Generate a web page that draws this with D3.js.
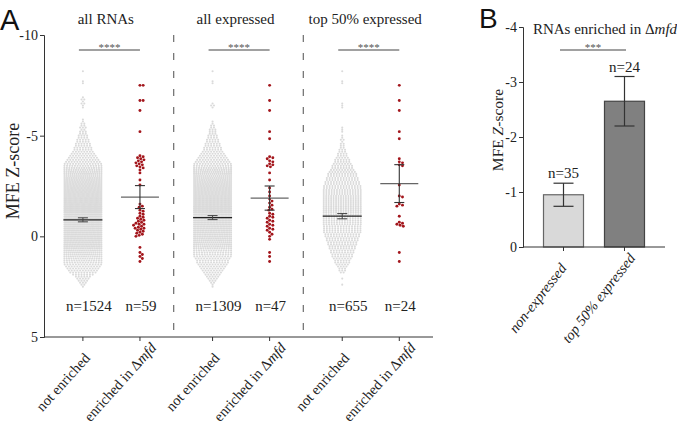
<!DOCTYPE html>
<html><head><meta charset="utf-8">
<script src="https://cdn.jsdelivr.net/npm/d3@7"></script>
<style>
body{margin:0;background:#fff}
svg{display:block}
text{font-family:"Liberation Serif","Times New Roman",Times,serif;fill:#222}
.sans{font-family:"Liberation Sans",Arial,sans-serif}
</style>
</head><body>
<svg id="c" width="677" height="431"></svg>
<script>
// ---------------- DATA ----------------
const groupNames = ["all RNAs", "all expressed", "top 50% expressed"];
const categoriesA = ["not enriched", "enriched in Δmfd"];
const yTicksA = [-10, -5, 0, 5];
const sigA = ["****", "****", "****"];
const nA = [[1524, 59], [1309, 47], [655, 24]];

// grey swarm: number of dots per row, rows start at swarmStart and step by swarmStep
const swarmStart = -8.2, swarmStep = 0.1;
const greyRows1 = [1,0,0,0,0,1,1,0,0,0,0,0,0,1,2,1,2,1,1,0,0,0,0,0,
  1,1,2,2,3,2,3,3,4,4,5,5,6,6,7,7,8,9,10,11,12,13,14,15,16,17,18,19,20,
  22,23,24,25,26,27,28,29,30,30,31,31,31,32,32,32,32,32,32,31,31,31,30,30,30,29,29,28,28,27,27,26,25,24,23,22,21,20,19,18,17,16,15,
  14,13,12,11,10,8,6,5,4,3,2,1];
const greyRows2 = [1,0,0,0,0,1,1,0,0,0,0,0,0,0,0,0,1,2,1,0,0,0,0,0,0,
  1,1,2,2,3,3,3,4,4,5,5,6,6,7,7,8,9,10,11,12,13,14,15,16,17,18,19,20,
  21,22,23,24,25,26,26,27,27,28,28,28,28,28,28,28,28,28,27,27,27,26,26,26,25,25,24,24,23,23,22,21,20,19,18,17,16,15,15,14,
  13,12,12,11,10,9,8,7,6,5,4,3,2,1,1];
const greyRows3 = [1,0,0,0,0,1,1,0,0,0,0,0,0,0,0,0,1,1,1,0,0,0,0,0,0,0,0,0,
  1,1,1,0,1,1,2,1,2,2,2,3,3,4,4,5,6,6,7,8,8,9,10,11,11,12,12,13,13,14,14,15,
  15,15,16,16,16,16,16,16,16,16,16,16,15,15,15,15,15,14,14,14,14,13,13,12,12,11,11,10,
  10,9,9,8,8,7,6,6,5,4,3,3,2,0,0,1,0,0,1];
const greyRows = [greyRows1, greyRows2, greyRows3];

// red points (enriched in Δmfd)
const red1 = [-7.5,-7.5,-6.75,-6.75,-6.25,-5.2,-4.0,-3.95,-3.9,-3.85,-3.8,-3.75,-3.7,-3.65,-3.6,-3.55,-3.5,-3.45,-3.4,-3.3,
  -3.15,-2.8,-2.55,-1.6,-1.5,-1.45,-1.3,-1.25,-1.15,-1.1,-1.0,-0.95,-0.9,-0.85,-0.8,-0.75,-0.7,-0.65,-0.6,-0.6,-0.55,-0.5,
  -0.45,-0.4,-0.4,-0.35,-0.3,-0.25,-0.2,-0.15,-0.1,-0.05,0.0,0.55,0.8,0.9,1.0,1.1,1.25];
const red2 = [-7.5,-6.75,-6.25,-5.2,-4.85,-3.95,-3.9,-3.85,-3.75,-3.7,-3.6,-3.55,-3.5,-3.45,-3.15,-2.8,-2.4,-2.2,-2.0,
  -1.85,-1.75,-1.65,-1.55,-1.45,-1.35,-1.3,-1.15,-1.1,-1.0,-0.95,-0.9,-0.8,-0.75,-0.7,-0.6,-0.55,-0.5,-0.4,-0.35,-0.3,
  -0.2,-0.1,0.0,0.15,0.8,1.0,1.25];
const red3 = [-7.5,-6.75,-6.25,-5.2,-4.85,-3.85,-3.7,-3.65,-3.55,-3.5,-2.55,-2.0,-1.95,-1.6,-1.55,-1.5,-1.0,-0.7,-0.65,
  -0.6,-0.55,-0.5,0.8,1.25];
const redPts = [red1, red2, red3];

const greyMean = [-0.82, -0.93, -1.0];
const greyErr = [0.1, 0.1, 0.13];
const redMean = [-1.95, -1.9, -2.62];
const redErr = [0.57, 0.6, 0.94];

// Panel B
const catsB = ["non-expressed", "top 50% expressed"];
const valuesB = [-0.95, -2.65];
const errB = [0.21, 0.45];
const nB = [35, 24];
const yTicksB = [-4, -3, -2, -1, 0];
const sigB = "***";

// ---------------- DRAW ----------------
const svg = d3.select("#c");
const ink = "#333";
const serif = '"Liberation Serif","Times New Roman",Times,serif';

// ===== Panel A =====
const yA = d3.scaleLinear().domain([5, -10]).range([337, 35]);
const xGroup = d3.scaleBand().domain(groupNames).range([44, 433]);
const bw = xGroup.bandwidth();
const xInner = d3.scalePoint().domain(categoriesA).range([bw * 0.3, bw * 0.74]);

svg.append("text").attr("class", "sans").attr("x", 0).attr("y", 30)
  .style("font-size", "29px").style("fill", "#111").text("A");

const gyA = svg.append("g").attr("transform", "translate(44,0)")
  .call(d3.axisLeft(yA).tickValues(yTicksA).tickSize(4).tickPadding(2).tickFormat(d => String(d)));
gyA.selectAll("path,line").attr("stroke", ink);
gyA.selectAll("text").style("font-family", serif).style("font-size", "14px").style("fill", "#222");

svg.append("text").attr("transform", `translate(19,${(yA(-10) + yA(5)) / 2 - 15}) rotate(-90)`)
  .attr("text-anchor", "middle").style("font-size", "18px").text("MFE Z-score");

// x axis line
svg.append("line").attr("x1", 44).attr("x2", 433).attr("y1", yA(5)).attr("y2", yA(5))
  .attr("stroke", ink).attr("stroke-width", 1);

// dividers
groupNames.slice(1).forEach(g => {
  svg.append("line").attr("x1", xGroup(g)).attr("x2", xGroup(g))
    .attr("y1", yA(-10)).attr("y2", yA(5))
    .attr("stroke", "#777").attr("stroke-width", 1.3).attr("stroke-dasharray", "7,11");
});

groupNames.forEach((g, gi) => {
  const x0 = xGroup(g);
  const xg = x0 + xInner(categoriesA[0]);
  const xr = x0 + xInner(categoriesA[1]);

  // title
  svg.append("text").attr("x", x0 + bw / 2 - 3).attr("y", 24).attr("text-anchor", "middle")
    .style("font-size", "15px").text(g);

  // significance
  svg.append("line").attr("x1", xg - 4).attr("x2", xr).attr("y1", 50).attr("y2", 50)
    .attr("stroke", "#444").attr("stroke-width", 1.2);
  svg.append("text").attr("x", (xg - 4 + xr) / 2).attr("y", 51).attr("text-anchor", "middle")
    .style("font-size", "11px").style("fill", "#555").text(sigA[gi]);

  // grey swarm
  const gGrey = svg.append("g").attr("fill", "#dadada");
  greyRows[gi].forEach((c, ri) => {
    if (!c) return;
    const v = swarmStart + ri * swarmStep;
    const sp = c > 1 ? Math.min(2.8, 37 / (c - 1)) : 0;
    for (let j = 0; j < c; j++) {
      gGrey.append("circle").attr("cx", xg + (j - (c - 1) / 2) * sp).attr("cy", yA(v)).attr("r", 1.05);
    }
  });

  // red swarm (simple collision layout)
  const r = 1.45;
  const placed = [];
  redPts[gi].slice().sort((a, b) => a - b).forEach(v => {
    const y = yA(v);
    let dx = 0;
    for (let k = 0; k < 60; k++) {
      const cand = k === 0 ? 0 : (k % 2 ? 1 : -1) * Math.ceil(k / 2) * 0.8;
      if (placed.every(p => Math.hypot(p.x - cand, p.y - y) >= 2 * r + 0.1)) { dx = cand; break; }
    }
    placed.push({ x: dx, y });
  });
  svg.append("g").selectAll("circle").data(placed).join("circle")
    .attr("cx", d => xr + d.x).attr("cy", d => d.y).attr("r", r).attr("fill", "#a3161c");

  // grey mean + error
  svg.append("line").attr("x1", xg - 19.5).attr("x2", xg + 19.5)
    .attr("y1", yA(greyMean[gi])).attr("y2", yA(greyMean[gi])).attr("stroke", "#222").attr("stroke-width", 1.2);
  [greyMean[gi] - greyErr[gi], greyMean[gi] + greyErr[gi]].forEach(v => {
    svg.append("line").attr("x1", xg - 5).attr("x2", xg + 5).attr("y1", yA(v)).attr("y2", yA(v))
      .attr("stroke", "#444").attr("stroke-width", 1);
  });
  svg.append("line").attr("x1", xg).attr("x2", xg)
    .attr("y1", yA(greyMean[gi] - greyErr[gi])).attr("y2", yA(greyMean[gi] + greyErr[gi]))
    .attr("stroke", "#444");

  // red mean + error
  svg.append("line").attr("x1", xr - 19).attr("x2", xr + 19)
    .attr("y1", yA(redMean[gi])).attr("y2", yA(redMean[gi])).attr("stroke", "#666").attr("stroke-width", 1.3);
  svg.append("line").attr("x1", xr).attr("x2", xr)
    .attr("y1", yA(redMean[gi] - redErr[gi])).attr("y2", yA(redMean[gi] + redErr[gi]))
    .attr("stroke", "#333").attr("stroke-width", 1.1);
  [redMean[gi] - redErr[gi], redMean[gi] + redErr[gi]].forEach(v => {
    svg.append("line").attr("x1", xr - 5).attr("x2", xr + 5).attr("y1", yA(v)).attr("y2", yA(v))
      .attr("stroke", "#333").attr("stroke-width", 1.1);
  });

  // n labels
  svg.append("text").attr("x", xg + 6).attr("y", 311).attr("text-anchor", "middle")
    .style("font-size", "15px").text("n=" + nA[gi][0]);
  svg.append("text").attr("x", xr + 1).attr("y", 311).attr("text-anchor", "middle")
    .style("font-size", "15px").text("n=" + nA[gi][1]);

  // x ticks + labels
  [xg, xr].forEach((x, ci) => {
    svg.append("line").attr("x1", x).attr("x2", x).attr("y1", yA(5)).attr("y2", yA(5) + 4).attr("stroke", ink);
    const t = svg.append("text").attr("transform", `translate(${x - 20},${382}) rotate(-48)`)
      .attr("text-anchor", "middle").attr("dy", "0.35em").style("font-size", "14.5px");
    if (ci === 0) t.text(categoriesA[0]);
    else {
      t.append("tspan").text("enriched in Δ");
      t.append("tspan").style("font-style", "italic").text("mfd");
    }
  });
});

// ===== Panel B =====
const yB = d3.scaleLinear().domain([0, -4]).range([247, 27]);
const xB = d3.scaleBand().domain(catsB).range([523, 665]).paddingInner(0.344).paddingOuter(0.336);

svg.append("text").attr("class", "sans").attr("x", 479).attr("y", 28)
  .style("font-size", "28px").style("fill", "#111").text("B");

const gyB = svg.append("g").attr("transform", "translate(523,0)")
  .call(d3.axisLeft(yB).tickValues(yTicksB).tickSize(4).tickPadding(2).tickFormat(d => String(d)));
gyB.selectAll("path,line").attr("stroke", ink);
gyB.selectAll("text").style("font-family", serif).style("font-size", "14px").style("fill", "#222");

const ylabB = svg.append("text").attr("transform", `translate(503,130) rotate(-90)`)
  .attr("text-anchor", "middle").style("font-size", "15.5px");
ylabB.append("tspan").text("MFE ");
ylabB.append("tspan").style("font-style", "italic").text("Z");
ylabB.append("tspan").text("-score");

const titleB = svg.append("text").attr("x", 605).attr("y", 34).attr("text-anchor", "middle").style("font-size", "15px");
titleB.append("tspan").text("RNAs enriched in Δ");
titleB.append("tspan").style("font-style", "italic").text("mfd");

svg.append("line").attr("x1", 560).attr("x2", 626).attr("y1", 50).attr("y2", 50)
  .attr("stroke", "#444").attr("stroke-width", 1.2);
svg.append("text").attr("x", 593).attr("y", 51).attr("text-anchor", "middle")
  .style("font-size", "11px").style("fill", "#555").text(sigB);

const fillsB = ["#d9d9d9", "#808080"];
const strokesB = ["#666", "#444"];
catsB.forEach((c, i) => {
  const x = xB(c), w = xB.bandwidth(), cx = x + w / 2;
  svg.append("rect").attr("x", x).attr("width", w).attr("y", yB(valuesB[i]))
    .attr("height", yB(0) - yB(valuesB[i])).attr("fill", fillsB[i]).attr("stroke", strokesB[i]).attr("stroke-width", 1.2);
  const lo = valuesB[i] + errB[i], hi = valuesB[i] - errB[i];
  svg.append("line").attr("x1", cx).attr("x2", cx).attr("y1", yB(lo)).attr("y2", yB(hi)).attr("stroke", "#333").attr("stroke-width", 1.2);
  [lo, hi].forEach(v => svg.append("line").attr("x1", cx - 10).attr("x2", cx + 10).attr("y1", yB(v)).attr("y2", yB(v))
    .attr("stroke", "#333").attr("stroke-width", 1.2));
  svg.append("text").attr("x", cx).attr("y", yB(hi) - 5).attr("text-anchor", "middle").style("font-size", "15px").text("n=" + nB[i]);
  svg.append("line").attr("x1", cx).attr("x2", cx).attr("y1", yB(0)).attr("y2", yB(0) + 4).attr("stroke", ink);
  svg.append("text").attr("transform", `translate(${cx - 26},${298}) rotate(-52)`)
    .attr("text-anchor", "middle").attr("dy", "0.35em").style("font-size", "14.5px").style("font-style", "italic").text(c);
});
svg.append("line").attr("x1", 523).attr("x2", 665).attr("y1", yB(0)).attr("y2", yB(0)).attr("stroke", ink);
</script>
</body></html>
